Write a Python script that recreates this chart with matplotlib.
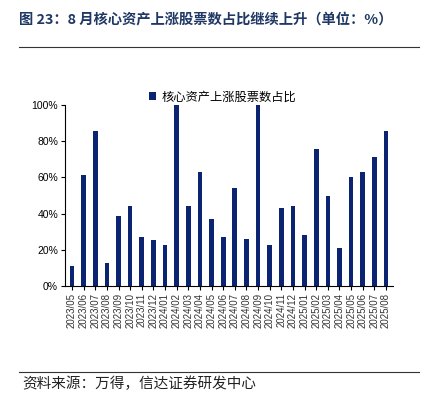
import matplotlib
matplotlib.use("Agg")
import matplotlib.pyplot as plt

plt.rcParams['font.family'] = ['Noto Sans CJK SC', 'DejaVu Sans']

# 月份与占比数据
meses = ['2023/05', '2023/06', '2023/07', '2023/08', '2023/09', '2023/10', '2023/11', '2023/12',
         '2024/01', '2024/02', '2024/03', '2024/04', '2024/05', '2024/06', '2024/07', '2024/08',
         '2024/09', '2024/10', '2024/11', '2024/12', '2025/01', '2025/02', '2025/03', '2025/04',
         '2025/05', '2025/06', '2025/07', '2025/08']
valores = [11.3, 61.2, 85.5, 12.7, 38.5, 44.0, 27.2, 25.5,
           22.7, 100.0, 44.0, 62.9, 37.2, 27.2, 54.1, 25.7,
           100.0, 22.7, 43.0, 44.0, 28.4, 75.7, 50.0, 21.2,
           60.0, 62.9, 71.4, 85.5]
yticks = [0, 20, 40, 60, 80, 100]

color_barra = '#0b2471'
color_titulo = '#1f3864'

fig = plt.figure(figsize=(4.29, 3.95), dpi=100)
ax = fig.add_axes([65 / 429, 1 - 286 / 395, (393 - 65) / 429, (286 - 105) / 395])

x = range(len(meses))
ax.bar(x, valores, width=0.4, color=color_barra, label='核心资产上涨股票数占比')
ax.set_xlim(-0.6, len(meses) - 0.4)
ax.set_ylim(0, 100)
ax.set_yticks(yticks)
ax.set_yticklabels([f'{v}%' for v in yticks], fontsize=7.5, family=['Liberation Sans'])
ax.set_xticks(list(x))
ax.set_xticklabels(meses, rotation=90, fontsize=7, family=['Liberation Sans'], color='#333333')
ax.tick_params(axis='both', length=3, width=0.8, direction='out', pad=2)

for lado in ['top', 'right']:
    ax.spines[lado].set_visible(False)
ax.spines['left'].set_linewidth(0.8)
ax.spines['bottom'].set_linewidth(0.8)

ax.legend(loc='upper center', bbox_to_anchor=(0.48, 1.14), frameon=False, fontsize=8.8,
          handlelength=0.6, handleheight=0.6, handletextpad=0.4)

# Título y líneas
fig.text(19 / 429, 1 - 20 / 395, '图 23：8 月核心资产上涨股票数占比继续上升（单位：%）',
         fontsize=10.3, fontweight='bold', color=color_titulo, va='center', ha='left')
fig.add_artist(plt.Line2D([19 / 429, 419 / 429], [1 - 47 / 395, 1 - 47 / 395],
                          color='#333333', linewidth=0.8))
fig.add_artist(plt.Line2D([19 / 429, 419 / 429], [1 - 372 / 395, 1 - 372 / 395],
                          color='#333333', linewidth=0.8))
fig.text(22 / 429, 1 - 384 / 395, '资料来源：万得，信达证券研发中心',
         fontsize=10.5, style='italic', color='#222222', va='center', ha='left')

fig.savefig('out.png', dpi=100)
